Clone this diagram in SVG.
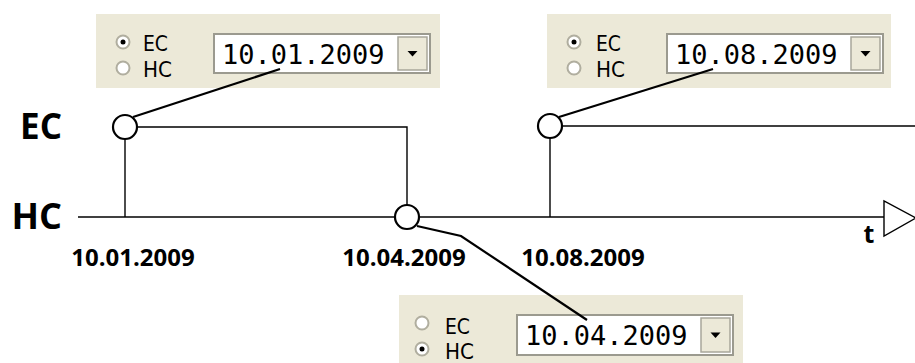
<svg xmlns="http://www.w3.org/2000/svg" width="915" height="363" viewBox="0 0 915 363">
<style>
.panel{fill:#ECE9D8}
.input{fill:#fff;stroke:#9b9a8f;stroke-width:2}
.btn{fill:#ECE9D8;stroke:#a8a69a;stroke-width:1.5}
.radio{fill:#fff;stroke:#b0ae9f;stroke-width:2}
.dot{fill:#000}
.rt{font-family:"DejaVu Sans","Noto Sans",sans-serif;font-size:22px;fill:#000}
.dt{font-family:"DejaVu Sans Mono","Liberation Mono",monospace;font-size:27px;fill:#000}
.lbl{font-family:"Open Sans","Noto Sans",sans-serif;font-weight:bold;fill:#000}
.thin{stroke:#000;stroke-width:1.4;fill:none}
.thick{stroke:#000;stroke-width:2.2;fill:none}
.node{fill:#fff;stroke:#000;stroke-width:2.2}
</style>
<defs>
<g id="arrowdn"><path d="M-5,-2.5 L5,-2.5 L0,3 Z" fill="#000"/></g>
</defs>

<g id="panel1">
<rect class="panel" x="96" y="14" width="344" height="74"/>
<circle class="radio" cx="123" cy="42" r="6.5"/>
<circle class="dot" cx="123" cy="42" r="2.5"/>
<circle class="radio" cx="123" cy="68" r="6.5"/>
<text class="rt" x="143" y="51" textLength="25" lengthAdjust="spacingAndGlyphs">EC</text>
<text class="rt" x="143" y="77" textLength="29" lengthAdjust="spacingAndGlyphs">HC</text>
<rect class="input" x="214" y="34" width="216" height="39"/>
<text class="dt" x="222" y="64">10.01.2009</text>
<rect class="btn" x="398" y="37" width="29" height="33"/>
<use href="#arrowdn" x="412.5" y="53.5"/>
</g>

<g id="panel2">
<rect class="panel" x="547" y="14" width="344" height="74"/>
<circle class="radio" cx="574" cy="42" r="6.5"/>
<circle class="dot" cx="574" cy="42" r="2.5"/>
<circle class="radio" cx="574" cy="68" r="6.5"/>
<text class="rt" x="596" y="51" textLength="25" lengthAdjust="spacingAndGlyphs">EC</text>
<text class="rt" x="596" y="77" textLength="29" lengthAdjust="spacingAndGlyphs">HC</text>
<rect class="input" x="667" y="34" width="216" height="39"/>
<text class="dt" x="675" y="64">10.08.2009</text>
<rect class="btn" x="851" y="37" width="29" height="33"/>
<use href="#arrowdn" x="865.5" y="53.5"/>
</g>

<g id="panel3">
<rect class="panel" x="399" y="295" width="344" height="74"/>
<circle class="radio" cx="422" cy="323" r="6.5"/>
<circle class="radio" cx="422" cy="349" r="6.5"/>
<circle class="dot" cx="422" cy="349" r="2.5"/>
<text class="rt" x="445" y="334" textLength="25" lengthAdjust="spacingAndGlyphs">EC</text>
<text class="rt" x="445" y="359" textLength="29" lengthAdjust="spacingAndGlyphs">HC</text>
<rect class="input" x="517" y="315" width="216" height="40"/>
<text class="dt" x="525" y="345">10.04.2009</text>
<rect class="btn" x="701" y="318" width="29" height="34"/>
<use href="#arrowdn" x="715.5" y="335"/>
</g>

<g id="labels">
<text class="lbl" x="62" y="139" font-size="35" text-anchor="end">EC</text>
<text class="lbl" x="62" y="229" font-size="36" text-anchor="end">HC</text>
<text class="lbl" x="133" y="266" font-size="24" text-anchor="middle">10.01.2009</text>
<text class="lbl" x="404" y="266" font-size="24" text-anchor="middle">10.04.2009</text>
<text class="lbl" x="583" y="266" font-size="24" text-anchor="middle">10.08.2009</text>
<text class="lbl" x="869" y="243" font-size="25" text-anchor="middle">t</text>
</g>

<g id="connectors">
<line class="thin" x1="78" y1="217" x2="884" y2="217"/>
<path class="thin" d="M884,201 L884,236 L916,218 Z" fill="#fff"/>
<line class="thin" x1="125" y1="127" x2="125" y2="217"/>
<polyline class="thin" points="125,127 407,127 407,217"/>
<line class="thin" x1="550" y1="126" x2="550" y2="217"/>
<line class="thin" x1="550" y1="126" x2="915" y2="126"/>
<line class="thick" x1="133" y1="117" x2="280" y2="69"/>
<line class="thick" x1="559" y1="117" x2="713" y2="69"/>
<polyline class="thick" points="417,226 461,236 587,320"/>
</g>

<g id="node1"><circle class="node" cx="125" cy="127" r="12"/></g>
<g id="node2"><circle class="node" cx="407" cy="217" r="12"/></g>
<g id="node3"><circle class="node" cx="550" cy="126" r="12"/></g>
</svg>
